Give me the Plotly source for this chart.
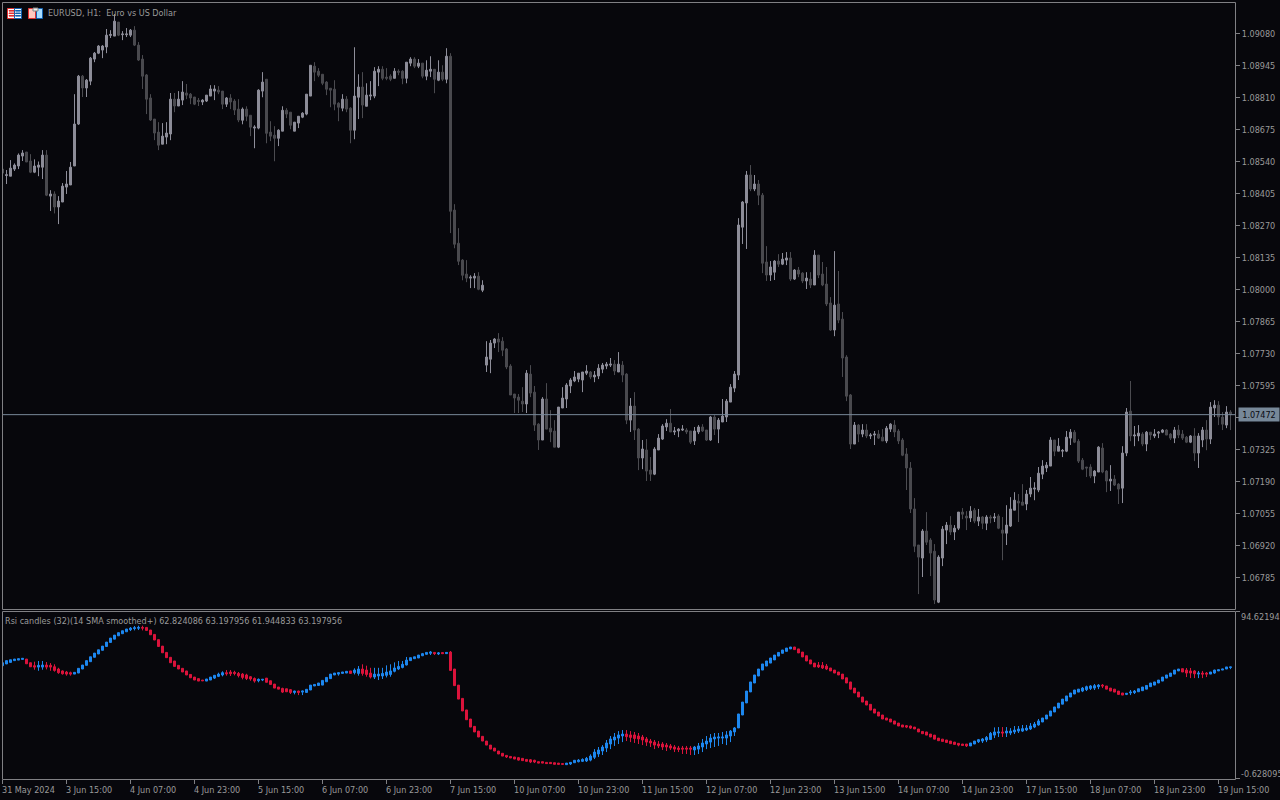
import plotly.graph_objects as go

# EURUSD H1 prices, in 1e-5 units (pipettes)
price_open = [108508,108481,108478,108508,108521,108563,108580,108542,108495,108516,108516,108567,108394,108403,108348,108369,108432,108441,108521,108698,
108900,108850,108879,108972,108997,109010,109023,109072,109069,109128,109075,109075,109073,109094,109031,108972,108905,108808,108719,108664,
108613,108643,108656,108803,108774,108799,108829,108824,108812,108798,108791,108795,108816,108837,108841,108837,108782,108808,108795,108761,
108714,108761,108735,108681,108681,108837,108887,108664,108651,108638,108668,108756,108748,108668,108702,108727,108740,108816,108942,108921,
108908,108875,108849,108845,108786,108765,108803,108765,108672,108811,108854,108773,108816,108816,108917,108929,108896,108900,108891,108921,
108921,108891,108955,108972,108942,108955,108900,108921,108929,108883,108917,108887,108984,108335,108195,108124,108065,108048,108048,108056,
107997,107681,107706,107774,107791,107782,107749,107677,107559,107546,107529,107517,107643,107567,107432,107365,107538,107415,107403,107335,
107500,107538,107593,107614,107622,107618,107647,107652,107631,107635,107664,107677,107681,107685,107652,107681,107643,107449,107508,107411,
107289,107323,107238,107221,107323,107369,107420,107436,107399,107403,107407,107407,107403,107361,107399,107420,107407,107365,107462,107411,
107441,107462,107525,107584,107639,108263,108365,108483,108424,108445,108398,108116,108061,108073,108120,108107,108124,108133,108044,108082,
108069,108036,108044,108019,108145,108065,108023,107943,107829,107939,107875,107715,107555,107348,107428,107390,107407,107382,107386,107390,
107377,107361,107411,107428,107403,107365,107306,107247,107074,106922,106867,106981,106943,106896,106681,106867,106985,107006,106977,106993,
107061,107044,107036,107069,107023,107040,107014,107040,107036,107044,106985,106972,107002,107069,107107,107103,107095,107137,107158,107154,
107221,107247,107255,107365,107318,107318,107318,107373,107398,107360,107280,107251,107251,107213,107230,107331,107234,107192,107200,107179,
107162,107310,107487,107382,107382,107390,107348,107398,107382,107394,107398,107407,107390,107373,107407,107390,107377,107356,107382,107310,
107365,107407,107369,107500,107512,107462,107428,107483]
price_high = [108508,108504,108546,108532,108574,108588,108580,108571,108549,108540,108588,108588,108419,108414,108394,108449,108500,108538,108824,108905,
108905,108888,108981,109002,109031,109031,109099,109094,109162,109128,109090,109103,109099,109111,109044,108989,108909,108824,108719,108706,
108702,108706,108829,108829,108837,108879,108867,108829,108812,108808,108803,108820,108862,108862,108858,108837,108812,108824,108803,108803,
108768,108773,108735,108693,108845,108917,108887,108710,108689,108676,108773,108765,108748,108706,108731,108748,108824,108946,108959,108934,
108908,108879,108849,108883,108790,108824,108816,108769,109022,108908,108917,108870,108879,108938,108942,108942,108934,108908,108934,108929,
108925,108959,108980,108980,108972,108955,108967,108984,108929,108967,108946,109018,108997,108360,108259,108128,108124,108060,108069,108073,
108039,107782,107787,107795,107816,107799,107753,107685,107559,107559,107588,107660,107681,107593,107436,107546,107605,107491,107449,107504,
107588,107605,107626,107656,107647,107652,107681,107656,107656,107685,107690,107694,107711,107702,107736,107698,107647,107542,107567,107415,
107365,107369,107293,107335,107390,107432,107453,107496,107420,107415,107428,107415,107403,107420,107428,107432,107407,107466,107470,107458,
107538,107538,107601,107656,108301,108373,108500,108525,108483,108462,108407,108183,108120,108124,108149,108154,108158,108158,108086,108095,
108073,108073,108073,108166,108145,108116,108095,107968,108162,108078,107905,107723,107559,107441,107432,107432,107432,107394,107403,107407,
107411,107424,107436,107449,107411,107373,107331,107272,107120,106922,106989,107061,106951,106926,106879,107002,107019,107044,107006,107061,
107078,107065,107086,107078,107074,107044,107048,107048,107057,107052,107040,107090,107124,107145,107137,107179,107154,107209,107187,107251,
107280,107272,107377,107365,107373,107327,107403,107411,107407,107369,107289,107251,107263,107238,107339,107352,107238,107259,107217,107183,
107339,107500,107614,107424,107428,107398,107403,107398,107411,107403,107411,107411,107394,107420,107428,107407,107382,107386,107415,107394,
107420,107449,107525,107533,107529,107483,107508,107491]
price_low = [108491,108445,108478,108500,108508,108542,108538,108491,108491,108478,108466,108394,108331,108321,108276,108369,108403,108441,108521,108694,
108812,108812,108862,108959,108993,108976,108997,109061,109069,109069,109052,109065,109065,109027,108964,108846,108740,108711,108630,108588,
108613,108613,108630,108748,108774,108778,108803,108782,108778,108774,108778,108791,108816,108799,108824,108761,108770,108761,108736,108706,
108697,108710,108647,108596,108676,108811,108617,108626,108541,108605,108668,108723,108676,108668,108681,108723,108735,108816,108879,108896,
108862,108820,108769,108756,108710,108752,108748,108617,108634,108719,108723,108773,108799,108807,108858,108883,108883,108879,108891,108904,
108866,108870,108942,108934,108934,108891,108883,108896,108828,108879,108879,108870,108238,108174,108103,108039,108031,108006,108006,107997,
107989,107652,107647,107753,107736,107719,107664,107555,107479,107479,107483,107479,107546,107403,107323,107365,107411,107356,107335,107331,
107500,107500,107563,107609,107609,107567,107639,107622,107609,107622,107647,107664,107673,107639,107652,107609,107432,107399,107365,107238,
107242,107192,107192,107217,107323,107365,107403,107399,107386,107377,107403,107390,107348,107344,107390,107399,107361,107361,107386,107352,
107441,107441,107525,107567,107618,108192,108171,108415,108415,108356,108069,108036,108036,108040,108095,108103,108103,108036,108040,108052,
108027,108002,108006,108019,108048,108014,107930,107825,107803,107858,107631,107529,107327,107348,107356,107377,107373,107369,107344,107369,
107361,107352,107399,107377,107348,107297,107154,107057,106892,106715,106787,106922,106791,106673,106677,106833,106926,106964,106943,106985,
107031,106985,107019,107014,107002,106989,106985,107014,107019,106989,106858,106922,106998,107069,107019,107090,107069,107124,107111,107145,
107200,107230,107255,107297,107318,107293,107314,107344,107352,107268,107238,107209,107204,107183,107230,107225,107145,107150,107171,107095,
107099,107297,107360,107339,107360,107339,107318,107365,107373,107373,107394,107386,107365,107352,107373,107365,107352,107352,107276,107247,
107335,107322,107348,107462,107428,107407,107415,107407]
price_close = [108491,108484,108512,108525,108567,108576,108538,108495,108521,108525,108567,108398,108403,108348,108373,108436,108445,108516,108698,108900,
108850,108883,108976,108997,109027,109027,109073,109076,109132,109073,109078,109078,109094,109031,108968,108900,108803,108715,108660,108609,
108647,108660,108803,108774,108803,108833,108820,108808,108782,108793,108799,108820,108846,108846,108833,108782,108808,108791,108757,108715,
108761,108731,108685,108685,108841,108875,108659,108647,108638,108672,108756,108740,108693,108706,108731,108744,108824,108946,108917,108904,
108870,108845,108841,108782,108769,108803,108761,108672,108816,108854,108778,108820,108820,108921,108929,108891,108891,108887,108921,108917,
108891,108959,108972,108942,108955,108900,108925,108929,108887,108917,108887,108984,108330,108191,108119,108060,108048,108052,108056,108001,
108018,107715,107774,107791,107778,107744,107673,107555,107542,107533,107517,107647,107563,107428,107365,107538,107411,107399,107335,107504,
107542,107597,107618,107631,107647,107652,107656,107631,107639,107668,107681,107685,107685,107656,107685,107639,107449,107508,107407,107289,
107327,107234,107221,107327,107373,107424,107436,107399,107403,107411,107411,107399,107356,107403,107420,107403,107365,107462,107411,107449,
107466,107529,107588,107643,108272,108369,108483,108424,108445,108398,108111,108061,108095,108120,108107,108128,108133,108044,108082,108065,
108036,108048,108019,108145,108061,108019,107939,107829,107934,107871,107711,107550,107348,107428,107390,107407,107382,107386,107390,107373,
107361,107415,107432,107399,107361,107301,107247,107074,106917,106871,106981,106934,106888,106690,106871,106989,107006,106977,106993,107061,
107052,107036,107065,107023,107040,107014,107040,107036,107040,106993,106972,107006,107074,107111,107099,107090,107137,107162,107162,107225,
107255,107259,107365,107318,107339,107321,107377,107398,107356,107276,107242,107247,107213,107234,107335,107230,107192,107200,107175,107158,
107310,107483,107382,107386,107394,107348,107398,107386,107390,107398,107407,107386,107373,107407,107386,107373,107356,107382,107310,107382,
107407,107369,107504,107512,107462,107432,107483,107472]

last_price = 1.07472

# Rsi candles indicator
rsi_open = [63.9,64.9,65.8,66.8,67.1,67.5,67.7,65.6,63.9,63.1,63.1,64.3,64.1,63.3,62.0,60.9,60.3,59.9,59.1,59.7,
62.0,64.1,66.2,68.7,70.6,72.7,74.9,77.2,79.1,81.0,82.2,83.3,84.5,85.1,85.3,85.8,85.8,84.3,81.8,78.8,
75.1,71.5,68.7,66.6,64.1,62.4,60.9,58.9,57.4,56.5,55.7,55.1,55.7,56.8,57.8,58.6,59.9,60.3,60.1,59.5,
59.1,58.6,57.6,56.6,55.3,55.7,56.8,55.3,53.4,51.7,50.9,50.7,50.2,48.6,49.4,48.8,48.6,50.0,52.3,52.6,
52.8,54.7,56.5,58.6,59.1,59.5,59.7,60.9,59.9,59.5,62.0,61.4,59.7,57.4,58.0,58.0,58.4,58.9,60.7,62.0,
62.9,64.3,66.8,67.9,68.3,69.6,70.4,71.0,71.5,70.6,71.4,70.8,71.7,62.0,52.8,45.2,38.6,33.4,29.2,26.5,
23.5,20.8,18.5,16.8,15.1,13.8,12.6,12.0,11.7,11.3,10.9,10.3,10.1,9.8,9.0,9.0,8.6,8.6,8.4,8.2,
7.9,7.3,7.7,8.4,9.0,9.2,9.4,9.9,11.5,13.4,15.1,16.8,19.1,21.4,22.5,23.7,24.8,24.3,24.3,23.7,
23.1,22.0,20.8,20.2,19.1,19.1,18.5,18.0,17.4,16.8,16.8,16.8,16.8,15.7,16.2,17.4,19.1,20.2,22.0,22.5,
22.5,22.5,23.7,26.0,28.3,35.7,42.6,48.9,54.0,58.0,61.4,63.7,65.4,67.2,69.4,71.0,72.1,73.5,74.6,73.5,
71.7,69.6,67.2,65.4,64.3,64.1,63.7,62.6,61.4,60.3,59.1,57.0,54.6,51.1,48.8,46.0,43.7,41.8,39.1,37.4,
35.7,34.0,33.4,32.3,31.1,30.0,29.6,29.4,28.8,27.7,26.3,26.0,24.8,24.2,22.5,21.9,21.4,20.8,20.2,19.5,
19.1,19.1,18.0,19.1,20.4,20.8,21.4,21.7,24.2,25.4,26.0,25.4,25.4,26.0,26.5,26.5,27.1,27.7,28.8,30.0,
31.7,33.4,35.1,37.4,39.7,41.9,43.7,46.0,47.7,48.8,49.4,50.2,50.9,51.1,51.9,52.8,52.3,51.1,50.5,49.4,
48.3,47.5,48.3,48.5,49.0,49.6,50.5,51.9,52.8,54.0,55.1,56.8,57.8,59.1,60.9,62.2,61.4,60.9,60.9,59.1,
59.7,59.7,59.1,59.7,60.9,61.4,62.0,62.82]
rsi_close = [65.6,66.8,67.3,67.7,67.9,68.1,65.0,63.3,63.1,64.1,64.3,63.1,63.1,61.2,59.9,59.3,59.1,59.1,60.1,62.4,
64.3,66.8,69.0,71.1,73.0,75.1,77.4,79.7,81.4,82.8,83.9,84.9,85.4,85.6,85.8,85.4,84.1,81.6,78.6,74.9,
71.3,68.5,65.6,63.5,62.0,60.3,58.6,57.0,55.7,55.1,55.3,56.3,57.4,58.4,59.1,59.9,59.3,59.3,59.5,58.2,
57.2,56.6,56.3,55.1,56.1,56.1,54.4,53.2,51.1,50.5,48.8,49.0,48.6,49.4,48.6,49.4,50.4,52.8,53.2,54.0,
55.5,57.2,59.1,59.7,59.9,60.3,60.7,59.5,61.4,62.0,59.5,58.9,57.4,59.1,59.1,59.5,60.3,60.9,62.6,63.5,
64.7,67.1,68.5,69.0,70.0,70.8,71.5,71.7,70.8,71.2,70.8,71.5,61.2,52.5,44.8,38.0,33.0,28.8,26.0,23.1,
20.8,18.5,16.2,15.1,13.4,12.2,11.7,11.1,10.5,9.9,9.6,9.2,8.8,8.8,8.2,8.2,7.9,7.9,7.5,7.5,
7.5,8.2,8.6,9.8,9.9,10.3,10.9,12.2,14.5,15.7,17.4,19.7,22.0,23.1,24.3,24.8,23.3,22.9,22.3,22.0,
21.4,20.2,19.7,18.5,18.0,17.4,17.4,16.8,16.2,16.0,16.2,16.2,16.2,17.4,18.0,19.7,20.8,22.5,23.1,23.1,
23.1,24.3,26.5,28.3,36.3,43.1,49.4,54.6,58.6,62.0,64.9,66.6,68.3,70.0,71.5,72.9,74.0,74.6,73.1,71.2,
68.9,66.6,64.9,63.2,63.2,62.6,62.0,60.9,59.7,58.6,56.3,54.0,50.5,48.3,46.0,43.1,41.4,38.5,36.8,35.1,
33.4,32.8,31.7,30.5,29.4,28.8,28.8,28.2,27.7,26.0,25.0,24.2,23.1,21.9,21.0,20.6,20.0,19.3,18.9,18.5,
18.3,18.0,19.7,20.8,21.6,22.0,22.9,25.2,26.0,26.0,25.4,26.5,26.5,27.1,27.7,27.9,28.2,29.4,30.5,32.3,
34.0,35.7,38.0,40.3,42.5,44.8,46.6,48.3,50.0,50.5,51.1,51.9,52.3,52.5,52.8,52.3,50.5,49.4,48.8,47.5,
47.1,48.1,48.8,49.4,50.7,51.7,52.6,54.0,54.6,55.7,57.4,58.6,59.7,61.4,62.0,60.3,59.7,59.7,59.3,59.7,
59.1,59.1,60.3,61.4,61.6,62.0,63.2,63.2]
# Bars whose wicks stick out of the body: bar number -> (high, low)
rsi_wicks = {8:(66.2,61.6),9:(66.6,61.0),10:(66.6,61.6),11:(66.0,61.8),12:(65.4,61.0),13:(64.7,60.5),14:(62.7,59.3),15:(61.2,58.8),16:(60.9,58.2),17:(60.5,58.2),
32:(86.0,83.7),33:(86.6,84.1),34:(86.8,84.3),35:(86.8,84.1),53:(58.6,56.3),54:(59.9,57.4),55:(60.7,57.8),56:(61.4,58.2),57:(61.4,58.0),58:(61.0,58.4),59:(60.3,57.2),
60:(59.7,56.1),61:(59.3,55.7),62:(58.0,55.3),63:(57.2,54.2),64:(56.6,54.4),65:(56.3,55.1),70:(51.3,48.3),72:(50.5,47.7),73:(49.6,47.5),74:(49.6,47.1),75:(49.6,47.1),
84:(60.1,58.2),88:(62.4,58.9),89:(63.7,58.2),90:(64.7,58.2),91:(63.9,57.6),92:(62.7,56.6),93:(62.7,56.3),94:(62.7,55.7),95:(62.7,56.3),96:(64.1,57.2),97:(64.7,57.6),
98:(65.8,60.1),99:(66.6,61.4),100:(66.6,62.4),101:(68.9,64.1),105:(71.2,69.4),107:(72.3,70.0),108:(71.5,70.0),109:(71.7,70.0),112:(72.3,60.9),
126:(12.8,11.1),129:(11.7,9.6),132:(10.5,8.2),133:(10.1,8.2),140:(8.2,7.1),142:(8.8,7.1),144:(10.5,8.6),145:(10.9,8.8),146:(11.7,8.8),147:(13.2,9.2),
148:(16.2,10.5),149:(17.4,11.7),150:(18.5,12.8),151:(21.4,14.5),152:(23.7,16.2),153:(25.4,18.0),154:(26.5,19.1),155:(27.1,20.2),156:(27.1,20.8),157:(26.5,20.2),
158:(26.0,19.7),159:(25.4,19.1),160:(24.3,18.5),161:(23.1,18.0),162:(22.0,17.4),163:(21.4,16.2),164:(20.8,16.8),165:(20.2,15.7),166:(19.7,15.1),167:(19.1,15.7),
168:(18.5,14.5),169:(18.0,14.5),170:(18.0,13.4),171:(18.0,13.4),172:(18.0,12.8),173:(18.0,12.8),174:(19.7,13.4),175:(22.0,14.5),176:(23.7,16.2),177:(24.8,16.8),
178:(25.4,17.4),179:(25.4,18.0),180:(26.0,19.1),181:(26.5,18.5),182:(27.1,20.2),183:(28.8,23.7),204:(66.0,62.6),205:(66.0,62.0),206:(64.9,61.4),
226:(30.0,28.2),227:(29.6,27.7),239:(19.5,17.8),241:(19.1,17.4),244:(22.0,19.7),245:(22.5,19.7),246:(23.7,20.2),247:(26.0,21.4),248:(28.6,22.5),249:(28.8,23.1),
250:(28.8,23.1),251:(28.8,23.1),252:(28.2,24.2),253:(29.4,24.8),254:(29.4,25.4),255:(30.0,26.0),256:(30.0,26.5),257:(31.1,27.1),258:(31.7,28.2),259:(33.4,29.6),
270:(51.7,48.8),271:(52.5,49.4),272:(52.8,50.0),273:(53.4,50.0),274:(53.4,50.5),275:(53.4,51.1),281:(48.1,47.1),282:(50.0,47.1),283:(50.0,47.7),
296:(62.6,57.4),297:(62.6,56.8),298:(61.4,56.8),299:(60.9,56.8),300:(60.9,56.8),301:(60.3,57.4),303:(61.6,59.3),307:(63.2,61.94)}

price_ticks = [1.09080,1.08945,1.08810,1.08675,1.08540,1.08405,1.08270,1.08135,1.08000,1.07865,1.07730,1.07595,1.07460,1.07325,1.07190,1.07055,1.06920,1.06785]
rsi_ticks = [94.62194, -0.628095]
rsi_tick_labels = ["94.62194", "-0.628095"]
time_labels = ["31 May 2024","3 Jun 15:00","4 Jun 07:00","4 Jun 23:00","5 Jun 15:00","6 Jun 07:00","6 Jun 23:00","7 Jun 15:00",
"10 Jun 07:00","10 Jun 23:00","11 Jun 15:00","12 Jun 07:00","12 Jun 23:00","13 Jun 15:00","14 Jun 07:00","14 Jun 23:00",
"17 Jun 15:00","18 Jun 07:00","18 Jun 23:00","19 Jun 15:00"]
time_label_step = 16

BG = "#07070c"; FRAME = "#808084"; TEXT = "#9a9a9a"
BULL = "#8e8e9a"; BEAR = "#4b4b50"; BLUE = "#1e88f0"; RED = "#dc143c"; BID = "#778899"
FONT = "'DejaVu Sans Condensed', 'Liberation Sans', sans-serif"
FS = 9
W, H = 1280, 800
px = lambda v: v / W
py = lambda v: 1 - v / H

n = len(price_open)
bars = list(range(n))
to_price = lambda values: [v / 1e5 for v in values]
rsi_high = [rsi_wicks[i][0] if i in rsi_wicks else max(rsi_open[i], rsi_close[i]) for i in bars]
rsi_low = [rsi_wicks[i][1] if i in rsi_wicks else min(rsi_open[i], rsi_close[i]) for i in bars]

fig = go.Figure()
fig.add_trace(go.Candlestick(x=bars, open=to_price(price_open), high=to_price(price_high), low=to_price(price_low), close=to_price(price_close),
    xaxis="x", yaxis="y", whiskerwidth=0,
    increasing=dict(line=dict(color=BULL, width=1), fillcolor=BULL),
    decreasing=dict(line=dict(color=BEAR, width=1), fillcolor=BEAR)))
fig.add_trace(go.Candlestick(x=bars, open=rsi_open, high=rsi_high, low=rsi_low, close=rsi_close,
    xaxis="x", yaxis="y2", whiskerwidth=0,
    increasing=dict(line=dict(color=BLUE, width=1), fillcolor=BLUE),
    decreasing=dict(line=dict(color=RED, width=1), fillcolor=RED)))

shapes = [
    dict(type="rect", xref="paper", yref="paper", x0=px(2.5), x1=px(1235.5), y0=py(609.5), y1=py(2.5), line=dict(color=FRAME, width=1)),
    dict(type="rect", xref="paper", yref="paper", x0=px(2.5), x1=px(1235.5), y0=py(779.5), y1=py(611.5), line=dict(color=FRAME, width=1)),
    dict(type="line", xref="paper", yref="y", x0=px(3), x1=px(1235), y0=last_price, y1=last_price, line=dict(color=BID, width=1), layer="above"),
]
def icon_rect(x0, y0, x1, y1, fill, line=None):
    shapes.append(dict(type="rect", xref="paper", yref="paper", x0=px(x0), x1=px(x1), y0=py(y1), y1=py(y0),
                       fillcolor=fill, line=dict(color=line or fill, width=1)))
# list icon
icon_rect(7.5, 8.5, 14.5, 18.5, "#ffffff", "#e03030")
icon_rect(14.5, 8.5, 21.5, 18.5, "#ffffff", "#1060b0")
for yy in (10.5, 13, 15.5):
    icon_rect(9, yy, 14, yy + 0.6, "#e03030")
    icon_rect(15.5, yy, 20.5, yy + 0.6, "#1060b0")
# save icon
icon_rect(28.5, 8.5, 35.5, 18.5, "#ffc8c0", "#e03030")
icon_rect(36.5, 8.5, 42.5, 18.5, "#a8dcff", "#1060b0")
icon_rect(33, 8, 38, 11, "#f0f0f0", "#808080")

anns = [
    dict(text="EURUSD, H1:\u00a0\u00a0Euro vs US Dollar", x=px(48), y=py(13.5)),
    dict(text="Rsi candles (32)(14 SMA smoothed+) 62.824086 63.197956 61.944833 63.197956", x=px(5), y=py(620.5)),
]
annotations = [dict(text=a["text"], xref="paper", yref="paper", x=a["x"], y=a["y"], xanchor="left", yanchor="middle",
                    showarrow=False, font=dict(family=FONT, size=FS, color=TEXT), borderpad=0, borderwidth=0) for a in anns]
for k, lab in enumerate(time_labels):
    annotations.append(dict(text=lab, xref="x", yref="paper", x=k * time_label_step, y=py(789.5), xanchor="left", yanchor="middle",
                            showarrow=False, font=dict(family=FONT, size=FS, color=TEXT), borderpad=0, xshift=-2))
annotations.append(dict(text=rsi_tick_labels[0], xref="paper", yref="paper", x=px(1240), y=py(616.5), xanchor="left", yanchor="middle",
                        showarrow=False, font=dict(family=FONT, size=FS, color=TEXT), borderpad=0))
annotations.append(dict(text=rsi_tick_labels[1], xref="paper", yref="paper", x=px(1240), y=py(773.5), xanchor="left", yanchor="middle",
                        showarrow=False, font=dict(family=FONT, size=FS, color=TEXT), borderpad=0))
annotations.append(dict(text=f"{last_price:.5f}", xref="paper", yref="y", x=px(1238), y=last_price, xanchor="left", yanchor="middle",
                        showarrow=False, font=dict(family=FONT, size=FS, color="#0a0a10"), bgcolor=BID, borderpad=1, width=38, height=11, align="center"))

fig.update_layout(
    width=W, height=H, margin=dict(l=0, r=0, t=0, b=0), autosize=False,
    paper_bgcolor=BG, plot_bgcolor=BG, showlegend=False, hovermode=False,
    shapes=shapes, annotations=annotations,
    xaxis=dict(domain=[px(2), px(1235)], range=[-0.125, 308.125], anchor="y2", rangeslider=dict(visible=False),
               showgrid=False, zeroline=False, showline=False, ticks="outside", ticklen=4, tickwidth=1, tickcolor=FRAME,
               tickvals=[k * time_label_step for k in range(len(time_labels))], showticklabels=False),
    yaxis=dict(domain=[py(609), py(2)], range=[1.066521, 1.092129], side="right", anchor="x",
               showgrid=False, zeroline=False, showline=False, ticks="outside", ticklen=4, tickwidth=1, tickcolor=FRAME,
               tickvals=price_ticks, tickformat=".5f", tickfont=dict(family=FONT, size=FS, color=TEXT)),
    yaxis2=dict(domain=[py(779), py(611)], range=[-0.904, 95.19], side="right", anchor="x",
               showgrid=False, zeroline=False, showline=False, ticks="outside", ticklen=4, tickwidth=1, tickcolor=FRAME,
               tickvals=rsi_ticks, showticklabels=False),
)
fig.write_html("out.html", config=dict(displayModeBar=False, staticPlot=True),
               post_script="document.body.style.margin='0';document.body.style.background='#07070c';document.body.style.overflow='hidden';")
